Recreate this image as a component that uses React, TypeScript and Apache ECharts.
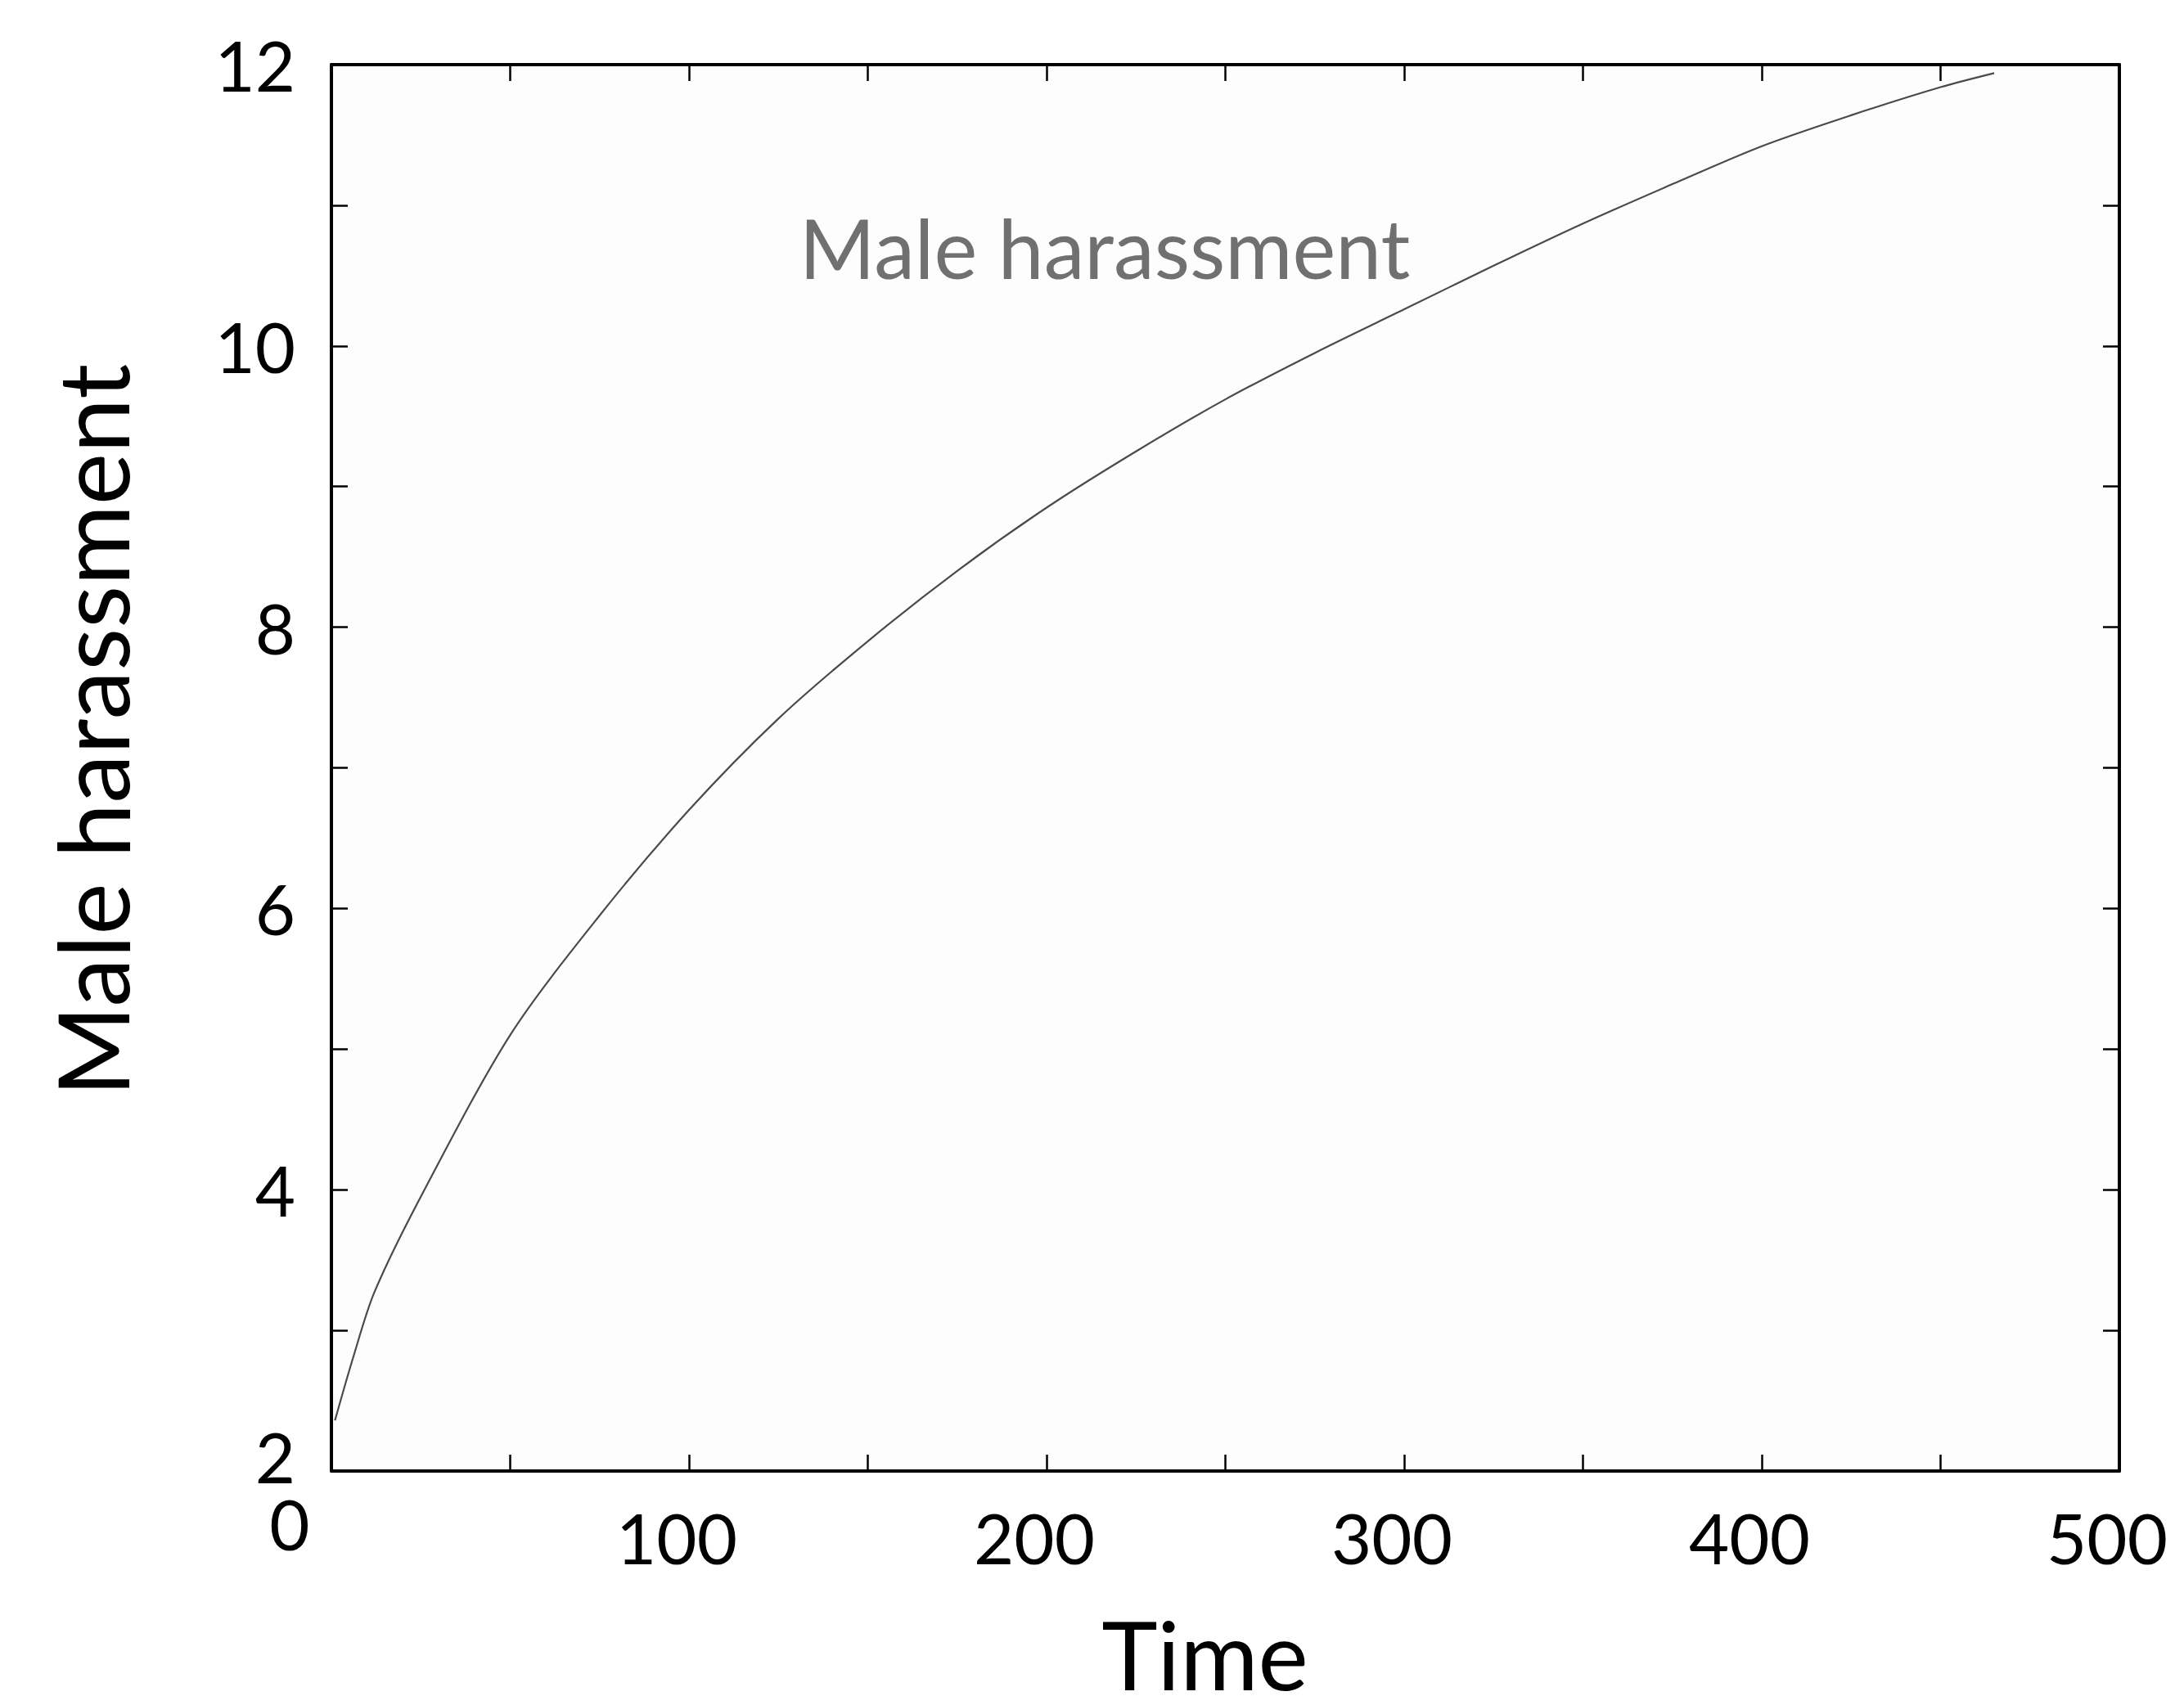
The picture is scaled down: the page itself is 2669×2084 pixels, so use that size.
import React, { useEffect, useRef } from "react";
import * as echarts from "echarts";

const timeValues = [1, 6, 12, 25, 50, 75, 100, 125, 150, 175, 200, 225, 250, 275, 300, 325, 350, 375, 400, 425, 450, 465];
const harassmentValues = [2.36, 2.8, 3.27, 3.95, 5.1, 5.95, 6.7, 7.35, 7.9, 8.4, 8.85, 9.25, 9.62, 9.95, 10.26, 10.57, 10.87, 11.15, 11.42, 11.64, 11.84, 11.94];
const xAxisTitle = "Time";
const yAxisTitle = "Male harassment";
const curveLabel = "Male harassment";

const FONT = "Lato";

export default function App() {
  const ref = useRef<HTMLDivElement>(null);
  useEffect(() => {
    document.body.style.margin = "0";
    const chart = echarts.init(ref.current!, null, { renderer: "svg" });
    const data = timeValues.map((t, i) => [t, harassmentValues[i]]);
    const tickCommon = { show: true, inside: true, length: 20, lineStyle: { color: "#000", width: 2.5 } };
    const lineCommon = { show: true, onZero: false, lineStyle: { color: "#000", width: 4 } };
    chart.setOption({
      animation: false,
      backgroundColor: "#ffffff",
      grid: {
        left: 405, top: 79, width: 2185, height: 1723,
        show: true, backgroundColor: "#fdfdfd", borderWidth: 0,
      },
      xAxis: [
        {
          type: "value", min: 0, max: 500, interval: 50, position: "bottom",
          axisLine: lineCommon, axisTick: tickCommon, splitLine: { show: false },
          name: xAxisTitle, nameLocation: "middle", nameGap: 180,
          nameTextStyle: { fontFamily: FONT, fontSize: 116, lineHeight: 86, color: "#000", padding: [0, 50, 0, 0] },
          axisLabel: {
            margin: 21,
            fontFamily: FONT, fontSize: 85, color: "#000",
            formatter: (v: number) => (v % 100 !== 0 ? "" : v === 0 ? "{z|0}" : "{n|" + v + "}"),
            rich: {
              n: { fontFamily: FONT, fontSize: 85, color: "#000", padding: [17, 30, 0, 0] },
              z: { fontFamily: FONT, fontSize: 85, color: "#000", padding: [0, 102, 0, 0] },
            },
          },
        },
        {
          type: "value", min: 0, max: 500, interval: 50, position: "top",
          axisLine: lineCommon, axisTick: tickCommon, axisLabel: { show: false }, splitLine: { show: false },
        },
      ],
      yAxis: [
        {
          type: "value", min: 2, max: 12, interval: 1, position: "left",
          axisLine: lineCommon, axisTick: tickCommon, splitLine: { show: false },
          name: yAxisTitle, nameLocation: "middle", nameGap: 233,
          nameTextStyle: { fontFamily: FONT, fontSize: 120, color: "#000", padding: [0, 0, 0, 92] },
          axisLabel: {
            margin: 44,
            fontFamily: FONT, fontSize: 85, color: "#000",
            formatter: (v: number) => (v % 2 !== 0 ? "" : v === 2 ? "{lo|2}" : String(v)),
            rich: {
              lo: { fontFamily: FONT, fontSize: 85, color: "#000", padding: [0, 0, 36, 0] },
            },
          },
        },
        {
          type: "value", min: 2, max: 12, interval: 1, position: "right",
          axisLine: lineCommon, axisTick: tickCommon, axisLabel: { show: false }, splitLine: { show: false },
        },
      ],
      graphic: [
        {
          type: "text", x: 1350, y: 302,
          style: { text: curveLabel, fontFamily: FONT, fontSize: 100, fill: "#707070", align: "center", verticalAlign: "middle" },
        },
      ],
      series: [
        {
          type: "line", data, showSymbol: false, smooth: 0.3,
          lineStyle: { color: "#4a4a4a", width: 2.2 }, xAxisIndex: 0, yAxisIndex: 0,
        },
      ],
    });
    return () => chart.dispose();
  }, []);
  return (
    <div
      ref={ref}
      style={{ position: "fixed", left: 0, top: 0, width: 2669, height: 2084, overflow: "hidden" }}
    />
  );
}
